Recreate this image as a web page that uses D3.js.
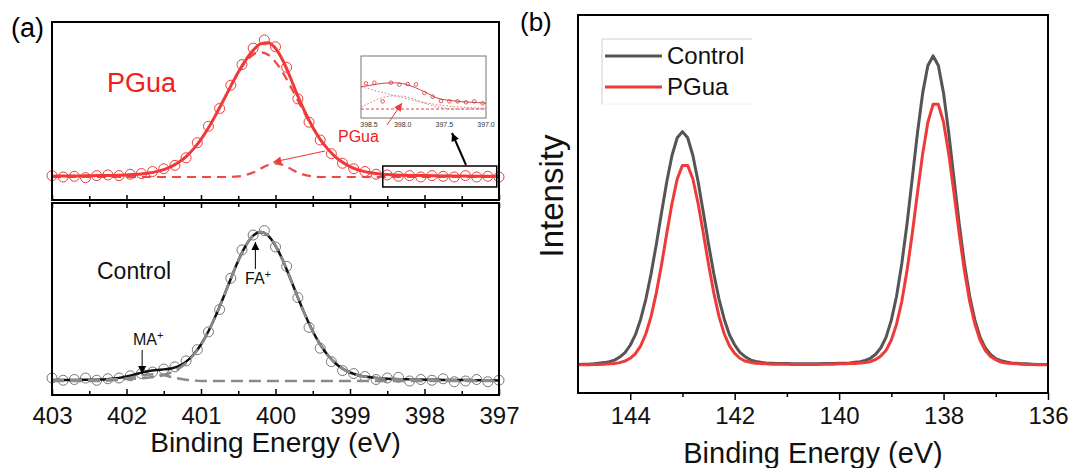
<!DOCTYPE html>
<html>
<head>
<meta charset="utf-8">
<script src="https://cdn.jsdelivr.net/npm/d3@7"></script>
<style>
  body { margin: 0; background: #fff; }
  svg { display: block; font-family: "Liberation Sans", Arial, sans-serif; }
</style>
</head>
<body>
<div id="chart"></div>
<script>
// ---------- panel (a): N 1s spectra with peak fits ----------
var energyFit = [403.0, 402.9, 402.8, 402.7, 402.6, 402.5, 402.4, 402.3, 402.2, 402.1,
  402.0, 401.9, 401.8, 401.7, 401.6, 401.5, 401.4, 401.3, 401.2, 401.1,
  401.0, 400.9, 400.8, 400.7, 400.6, 400.5, 400.4, 400.3, 400.2, 400.1,
  400.0, 399.9, 399.8, 399.7, 399.6, 399.5, 399.4, 399.3, 399.2, 399.1,
  399.0, 398.9, 398.8, 398.7, 398.6, 398.5, 398.4, 398.3, 398.2, 398.1,
  398.0, 397.9, 397.8, 397.7, 397.6, 397.5, 397.4, 397.3, 397.2, 397.1, 397.0];

var pguaFit = [0.006, 0.007, 0.007, 0.008, 0.008, 0.009, 0.010, 0.010, 0.011, 0.013,
  0.015, 0.018, 0.022, 0.029, 0.039, 0.054, 0.076, 0.107, 0.149, 0.205,
  0.275, 0.359, 0.455, 0.558, 0.663, 0.764, 0.853, 0.924, 0.971, 0.980,
  0.939, 0.848, 0.724, 0.590, 0.469, 0.363, 0.275, 0.205, 0.149, 0.107,
  0.076, 0.054, 0.039, 0.029, 0.022, 0.018, 0.015, 0.013, 0.011, 0.010,
  0.010, 0.009, 0.008, 0.008, 0.007, 0.007, 0.006, 0.006, 0.005, 0.005, 0.005];

var pguaMain = [0.006, 0.007, 0.007, 0.008, 0.008, 0.009, 0.010, 0.010, 0.011, 0.013,
  0.015, 0.018, 0.022, 0.029, 0.039, 0.054, 0.076, 0.107, 0.149, 0.205,
  0.275, 0.359, 0.455, 0.558, 0.663, 0.760, 0.839, 0.892, 0.910, 0.892,
  0.839, 0.760, 0.663, 0.558, 0.455, 0.359, 0.275, 0.205, 0.149, 0.107,
  0.076, 0.054, 0.039, 0.029, 0.022, 0.018, 0.015, 0.013, 0.011, 0.010,
  0.010, 0.009, 0.008, 0.008, 0.007, 0.007, 0.006, 0.006, 0.005, 0.005, 0.005];

var pguaMinor = [0, 0, 0, 0, 0, 0, 0, 0, 0, 0,
  0, 0, 0, 0, 0, 0, 0, 0, 0, 0,
  0, 0, 0, 0, 0, 0.004, 0.014, 0.032, 0.061, 0.088,
  0.100, 0.088, 0.061, 0.032, 0.014, 0.004, 0, 0, 0, 0,
  0, 0, 0, 0, 0, 0, 0, 0, 0, 0,
  0, 0, 0, 0, 0, 0, 0, 0, 0, 0, 0];

var controlFit = [0.006, 0.006, 0.007, 0.007, 0.008, 0.008, 0.009, 0.010, 0.015, 0.021,
  0.030, 0.042, 0.056, 0.067, 0.074, 0.078, 0.084, 0.100, 0.130, 0.178,
  0.245, 0.334, 0.441, 0.561, 0.687, 0.808, 0.908, 0.976, 1.000, 0.976,
  0.908, 0.808, 0.687, 0.561, 0.441, 0.334, 0.245, 0.174, 0.121, 0.083,
  0.057, 0.040, 0.030, 0.023, 0.018, 0.015, 0.013, 0.012, 0.011, 0.010,
  0.009, 0.008, 0.008, 0.007, 0.007, 0.006, 0.006, 0.005, 0.005, 0.005, 0.004];

var controlFA = [0.006, 0.006, 0.007, 0.007, 0.008, 0.008, 0.009, 0.010, 0.011, 0.012,
  0.013, 0.015, 0.018, 0.023, 0.030, 0.040, 0.057, 0.083, 0.121, 0.174,
  0.245, 0.334, 0.441, 0.561, 0.687, 0.808, 0.908, 0.976, 1.000, 0.976,
  0.908, 0.808, 0.687, 0.561, 0.441, 0.334, 0.245, 0.174, 0.121, 0.083,
  0.057, 0.040, 0.030, 0.023, 0.018, 0.015, 0.013, 0.012, 0.011, 0.010,
  0.009, 0.008, 0.008, 0.007, 0.007, 0.006, 0.006, 0.005, 0.005, 0.005, 0.004];

var controlMA = [0, 0, 0, 0, 0, 0, 0, 0, 0.004, 0.009,
  0.017, 0.027, 0.038, 0.044, 0.044, 0.038, 0.027, 0.017, 0.009, 0.004,
  0, 0, 0, 0, 0, 0, 0, 0, 0, 0,
  0, 0, 0, 0, 0, 0, 0, 0, 0, 0,
  0, 0, 0, 0, 0, 0, 0, 0, 0, 0,
  0, 0, 0, 0, 0, 0, 0, 0, 0, 0, 0];

var energyDots = [403.00, 402.85, 402.70, 402.55, 402.40, 402.25, 402.10, 401.95, 401.80, 401.65,
  401.50, 401.35, 401.20, 401.05, 400.90, 400.75, 400.60, 400.45, 400.30, 400.15,
  400.00, 399.85, 399.70, 399.55, 399.40, 399.25, 399.10, 398.95, 398.80, 398.65,
  398.50, 398.35, 398.20, 398.05, 397.90, 397.75, 397.60, 397.45, 397.30, 397.15, 397.00];

var pguaDots = [0.010, 0.000, 0.005, -0.005, 0.010, 0.015, 0.010, 0.020, 0.025, 0.040,
  0.060, 0.085, 0.140, 0.250, 0.370, 0.500, 0.670, 0.820, 0.940, 1.000,
  0.950, 0.800, 0.570, 0.400, 0.270, 0.170, 0.100, 0.060, 0.040, 0.020,
  0.015, 0.005, 0.010, 0.000, 0.010, 0.005, 0.000, 0.010, 0.000, 0.005, 0.000];

var controlDots = [0.020, 0.005, 0.010, 0.020, 0.005, 0.015, 0.020, 0.035, 0.050, 0.060,
  0.080, 0.095, 0.135, 0.210, 0.330, 0.480, 0.690, 0.880, 0.980, 1.010,
  0.900, 0.770, 0.560, 0.360, 0.220, 0.130, 0.070, 0.050, 0.030, 0.010,
  0.020, 0.025, 0.000, 0.010, 0.005, 0.015, -0.005, 0.000, 0.010, -0.005, 0.005];

var ticksA = [403, 402, 401, 400, 399, 398, 397];
var minorA = [402.5, 401.5, 400.5, 399.5, 398.5, 397.5];

// inset: zoom of 398.5 - 397.0 eV for PGua
var insetEnergy = [398.5, 398.4, 398.3, 398.2, 398.1, 398.0, 397.9, 397.8,
  397.7, 397.6, 397.5, 397.4, 397.3, 397.2, 397.1, 397.0];
var insetFit = [0.455, 0.48, 0.51, 0.53, 0.535, 0.52, 0.47, 0.40,
  0.32, 0.23, 0.19, 0.17, 0.15, 0.14, 0.13, 0.12];
var insetMain = [0.45, 0.41, 0.36, 0.32, 0.27, 0.23, 0.19, 0.15,
  0.12, 0.09, 0.07, 0.05, 0.04, 0.03, 0.02, 0.02];
var insetMinor = [0.04, 0.12, 0.20, 0.25, 0.27, 0.26, 0.22, 0.16,
  0.10, 0.05, 0.02, 0.0, 0.0, 0.0, 0.0, 0.0];
var insetBase = [0, 0, 0, 0, 0, 0, 0, 0, 0, 0, 0, 0, 0, 0, 0, 0];
var insetDotEnergy = [398.44, 398.34, 398.24, 398.14, 398.04, 397.94, 397.84, 397.74,
  397.64, 397.54, 397.44, 397.34, 397.24, 397.14, 397.04];
var insetDots = [0.524, 0.537, 0.156, 0.537, 0.497, 0.510, 0.503, 0.327,
  0.252, 0.163, 0.156, 0.156, 0.136, 0.156, 0.116];
var insetTicks = ["398.5", "398.0", "397.5", "397.0"];

// ---------- panel (b): Pb 4f ----------
var energyB = [145.0, 144.9, 144.8, 144.7, 144.6, 144.5, 144.4, 144.3, 144.2, 144.1,
  144.0, 143.9, 143.8, 143.7, 143.6, 143.5, 143.4, 143.3, 143.2, 143.1,
  143.0, 142.9, 142.8, 142.7, 142.6, 142.5, 142.4, 142.3, 142.2, 142.1,
  142.0, 141.9, 141.8, 141.7, 141.6, 141.5, 141.4, 141.3, 141.2, 141.1,
  141.0, 140.9, 140.8, 140.7, 140.6, 140.5, 140.4, 140.3, 140.2, 140.1,
  140.0, 139.9, 139.8, 139.7, 139.6, 139.5, 139.4, 139.3, 139.2, 139.1,
  139.0, 138.9, 138.8, 138.7, 138.6, 138.5, 138.4, 138.3, 138.2, 138.1,
  138.0, 137.9, 137.8, 137.7, 137.6, 137.5, 137.4, 137.3, 137.2, 137.1,
  137.0, 136.9, 136.8, 136.7, 136.6, 136.5, 136.4, 136.3, 136.2, 136.1, 136.0];

var controlB = [0.005, 0.006, 0.006, 0.007, 0.009, 0.011, 0.014, 0.019, 0.029, 0.043,
  0.067, 0.101, 0.151, 0.216, 0.298, 0.393, 0.495, 0.594, 0.679, 0.736,
  0.756, 0.736, 0.679, 0.594, 0.495, 0.393, 0.298, 0.216, 0.151, 0.101,
  0.068, 0.044, 0.030, 0.020, 0.015, 0.012, 0.010, 0.009, 0.008, 0.008,
  0.008, 0.007, 0.007, 0.007, 0.007, 0.007, 0.007, 0.008, 0.008, 0.008,
  0.009, 0.009, 0.010, 0.012, 0.014, 0.018, 0.025, 0.038, 0.059, 0.093,
  0.148, 0.225, 0.330, 0.458, 0.604, 0.751, 0.880, 0.969, 1.000, 0.969,
  0.880, 0.751, 0.604, 0.458, 0.330, 0.225, 0.148, 0.093, 0.058, 0.037,
  0.024, 0.017, 0.013, 0.010, 0.009, 0.007, 0.007, 0.006, 0.005, 0.005, 0.005];

var pguaB = [0.004, 0.004, 0.004, 0.005, 0.005, 0.006, 0.007, 0.008, 0.011, 0.016,
  0.025, 0.040, 0.065, 0.104, 0.160, 0.236, 0.327, 0.428, 0.524, 0.603,
  0.647, 0.647, 0.603, 0.524, 0.428, 0.327, 0.236, 0.160, 0.104, 0.065,
  0.041, 0.025, 0.016, 0.012, 0.009, 0.008, 0.007, 0.006, 0.006, 0.006,
  0.006, 0.005, 0.005, 0.005, 0.005, 0.005, 0.005, 0.006, 0.006, 0.006,
  0.007, 0.007, 0.008, 0.008, 0.010, 0.011, 0.014, 0.021, 0.032, 0.051,
  0.084, 0.135, 0.208, 0.307, 0.426, 0.558, 0.684, 0.786, 0.844, 0.844,
  0.786, 0.684, 0.558, 0.426, 0.307, 0.208, 0.135, 0.083, 0.050, 0.031,
  0.020, 0.013, 0.010, 0.008, 0.007, 0.006, 0.005, 0.005, 0.004, 0.004, 0.004];

var ticksB = [144, 142, 140, 138, 136];
var minorB = [143, 141, 139, 137];
var legendNames = ["Control", "PGua"];

// colours
var red = "#f03a3a";
var gray = "#555555";

var svg = d3.select("#chart").append("svg")
  .attr("width", 1072)
  .attr("height", 468);

function zip(xs, ys) {
  return xs.map(function(x, i) { return [x, ys[i]]; });
}

// arrowheads
var defs = svg.append("defs");
function marker(id, color) {
  defs.append("marker")
    .attr("id", id)
    .attr("viewBox", "0 0 10 10")
    .attr("refX", 10).attr("refY", 5)
    .attr("markerWidth", 9).attr("markerHeight", 8)
    .attr("markerUnits", "userSpaceOnUse")
    .attr("orient", "auto")
    .append("path")
    .attr("d", "M0,0 L10,5 L0,10 Z")
    .attr("fill", color);
}
marker("arBlack", "#000");
marker("arRed", red);

// ================= panel (a) =================
var pa = {left: 52, right: 499, top: 22, mid: 200, mid2: 203, bottom: 395};

var xA = d3.scaleLinear().domain([403, 397]).range([pa.left, pa.right]);
var yTop = d3.scaleLinear().domain([-0.168, 1.131]).range([pa.mid, pa.top]);
var yBot = d3.scaleLinear().domain([-0.094, 1.195]).range([pa.bottom, pa.mid2]);

var lineTop = d3.line().x(d => xA(d[0])).y(d => yTop(d[1])).curve(d3.curveMonotoneX);
var lineBot = d3.line().x(d => xA(d[0])).y(d => yBot(d[1])).curve(d3.curveMonotoneX);

var gA = svg.append("g");

// top (PGua)
gA.append("path").datum(zip(energyFit, pguaMain))
  .attr("d", lineTop).attr("fill", "none")
  .attr("stroke", "#f04848").attr("stroke-width", 2.2).attr("stroke-dasharray", "9,6");
gA.append("path").datum(zip(energyFit, pguaMinor))
  .attr("d", lineTop).attr("fill", "none")
  .attr("stroke", "#f04848").attr("stroke-width", 2.2).attr("stroke-dasharray", "9,6");
gA.selectAll("circle.pd").data(zip(energyDots, pguaDots)).enter()
  .append("circle").attr("class", "pd")
  .attr("cx", d => xA(d[0])).attr("cy", d => yTop(d[1])).attr("r", 5)
  .attr("fill", "none").attr("stroke", red).attr("stroke-width", 1);
gA.append("path").datum(zip(energyFit, pguaFit))
  .attr("d", lineTop).attr("fill", "none")
  .attr("stroke", red).attr("stroke-width", 3);

// bottom (Control)
gA.selectAll("circle.cd").data(zip(energyDots, controlDots)).enter()
  .append("circle").attr("class", "cd")
  .attr("cx", d => xA(d[0])).attr("cy", d => yBot(d[1])).attr("r", 5)
  .attr("fill", "none").attr("stroke", "#777").attr("stroke-width", 1);
gA.append("path").datum(zip(energyFit, controlFit))
  .attr("d", lineBot).attr("fill", "none")
  .attr("stroke", "#111").attr("stroke-width", 2.5);
gA.append("path").datum(zip(energyFit, controlFA))
  .attr("d", lineBot).attr("fill", "none")
  .attr("stroke", "#8a8a8a").attr("stroke-width", 2.5).attr("stroke-dasharray", "12,6");
gA.append("path").datum(zip(energyFit, controlMA))
  .attr("d", lineBot).attr("fill", "none")
  .attr("stroke", "#8a8a8a").attr("stroke-width", 2.5).attr("stroke-dasharray", "12,6");

// frames
gA.append("rect").attr("x", pa.left).attr("y", pa.top)
  .attr("width", pa.right - pa.left).attr("height", pa.mid - pa.top)
  .attr("fill", "none").attr("stroke", "#000").attr("stroke-width", 2);
gA.append("rect").attr("x", pa.left).attr("y", pa.mid2)
  .attr("width", pa.right - pa.left).attr("height", pa.bottom - pa.mid2)
  .attr("fill", "none").attr("stroke", "#000").attr("stroke-width", 2);

function tickAxis(axis, y, values, size) {
  var g = gA.append("g").attr("transform", "translate(0," + y + ")")
    .call(axis(xA).tickValues(values).tickSize(size).tickFormat(""));
  g.select(".domain").remove();
  g.selectAll("line").attr("stroke-width", 1.5);
  return g;
}
tickAxis(d3.axisBottom, pa.mid, ticksA, -5);
tickAxis(d3.axisBottom, pa.mid, minorA, -4);
tickAxis(d3.axisTop, pa.mid2, ticksA, -5);
tickAxis(d3.axisTop, pa.mid2, minorA, -4);
tickAxis(d3.axisBottom, pa.bottom, minorA, -4);

var axA = gA.append("g").attr("transform", "translate(0," + pa.bottom + ")")
  .call(d3.axisBottom(xA).tickValues(ticksA).tickSize(-6).tickPadding(12).tickFormat(d3.format("d")));
axA.select(".domain").remove();
axA.selectAll("line").attr("stroke-width", 1.5);
axA.selectAll("text").attr("font-size", 24).attr("font-family", "Liberation Sans, Arial, sans-serif").attr("fill", "#111");

gA.append("text").attr("x", (pa.left + pa.right) / 2).attr("y", 452)
  .attr("text-anchor", "middle").attr("font-size", 28).attr("fill", "#111")
  .text("Binding Energy (eV)");

gA.append("text").attr("x", 11).attr("y", 37).attr("font-size", 27).text("(a)");

// labels in panel (a)
gA.append("text").attr("x", 107).attr("y", 92).attr("font-size", 27)
  .attr("fill", "#f02020").text("PGua");
gA.append("text").attr("x", 338).attr("y", 142).attr("font-size", 16)
  .attr("fill", "#f02020").text("PGua");
gA.append("line").attr("x1", 325).attr("y1", 151).attr("x2", xA(400.03)).attr("y2", 162)
  .attr("stroke", red).attr("stroke-width", 1.2).attr("marker-end", "url(#arRed)");

gA.append("text").attr("x", 97).attr("y", 279).attr("font-size", 23)
  .attr("fill", "#111").text("Control");
var fa = gA.append("text").attr("x", 245).attr("y", 284).attr("font-size", 16).attr("fill", "#111");
fa.append("tspan").text("FA");
fa.append("tspan").attr("dy", -6).attr("font-size", 11).text("+");
gA.append("line").attr("x1", xA(400.27)).attr("y1", 269).attr("x2", xA(400.27)).attr("y2", 242)
  .attr("stroke", "#000").attr("stroke-width", 1).attr("marker-end", "url(#arBlack)");
var ma = gA.append("text").attr("x", 133).attr("y", 345).attr("font-size", 16).attr("fill", "#111");
ma.append("tspan").text("MA");
ma.append("tspan").attr("dy", -6).attr("font-size", 11).text("+");
gA.append("line").attr("x1", xA(401.79)).attr("y1", 350).attr("x2", xA(401.79)).attr("y2", 374)
  .attr("stroke", "#000").attr("stroke-width", 1).attr("marker-end", "url(#arBlack)");

// zoom box and arrow to inset
gA.append("rect").attr("x", xA(398.56)).attr("y", yTop(0.08))
  .attr("width", xA(397.03) - xA(398.56)).attr("height", yTop(-0.073) - yTop(0.08))
  .attr("fill", "none").attr("stroke", "#000").attr("stroke-width", 1.5);
gA.append("line").attr("x1", 466).attr("y1", 165).attr("x2", 452).attr("y2", 133)
  .attr("stroke", "#000").attr("stroke-width", 2).attr("marker-end", "url(#arBlack)");

// inset
var ib = {left: 361, right: 486, top: 56, bottom: 118};
var xI = d3.scaleLinear().domain([398.5, 397.0]).range([ib.left, ib.right]);
var yI = d3.scaleLinear().domain([0, 1]).range([109, 60]);
var lineI = d3.line().x(d => xI(d[0])).y(d => yI(d[1])).curve(d3.curveMonotoneX);
var gI = svg.append("g");
gI.append("rect").attr("x", ib.left).attr("y", ib.top)
  .attr("width", ib.right - ib.left).attr("height", ib.bottom - ib.top)
  .attr("fill", "#fff").attr("stroke", "#777").attr("stroke-width", 1);
gI.append("path").datum(zip(insetEnergy, insetBase)).attr("d", lineI)
  .attr("fill", "none").attr("stroke", "#d33").attr("stroke-width", 0.9).attr("stroke-dasharray", "3,2");
gI.append("path").datum(zip(insetEnergy, insetMain)).attr("d", lineI)
  .attr("fill", "none").attr("stroke", "#c66").attr("stroke-width", 0.9).attr("stroke-dasharray", "1.5,2");
gI.append("path").datum(zip(insetEnergy, insetMinor)).attr("d", lineI)
  .attr("fill", "none").attr("stroke", "#c66").attr("stroke-width", 0.9).attr("stroke-dasharray", "1.5,2");
gI.append("path").datum(zip(insetEnergy, insetFit)).attr("d", lineI)
  .attr("fill", "none").attr("stroke", "#c44").attr("stroke-width", 1);
gI.selectAll("circle").data(zip(insetDotEnergy, insetDots)).enter().append("circle")
  .attr("cx", d => xI(d[0])).attr("cy", d => yI(d[1])).attr("r", 1.8)
  .attr("fill", "none").attr("stroke", "#d33").attr("stroke-width", 0.8);
gI.selectAll("text.it").data(insetTicks).enter().append("text").attr("class", "it")
  .attr("x", (d, i) => Math.max(xI(+d), ib.left + 8)).attr("y", 127)
  .attr("text-anchor", "middle").attr("font-size", 7).attr("fill", "#333").text(d => d);
gI.append("line").attr("x1", 387).attr("y1", 125).attr("x2", 402).attr("y2", 103)
  .attr("stroke", red).attr("stroke-width", 1).attr("marker-end", "url(#arRed)");

// ================= panel (b) =================
var pb = {left: 578, right: 1048, top: 15, bottom: 393};
var xB = d3.scaleLinear().domain([145, 136]).range([pb.left, pb.right]);
var yB = d3.scaleLinear().domain([-0.087, 1.132]).range([pb.bottom, pb.top]);
var lineB = d3.line().x(d => xB(d[0])).y(d => yB(d[1]));

var seriesB = [
  {name: legendNames[0], values: controlB, color: gray},
  {name: legendNames[1], values: pguaB, color: red}
];

var gB = svg.append("g");
seriesB.forEach(function(s) {
  gB.append("path").datum(zip(energyB, s.values))
    .attr("d", lineB).attr("fill", "none")
    .attr("stroke", s.color).attr("stroke-width", 3).attr("stroke-linejoin", "round");
});

gB.append("rect").attr("x", pb.left).attr("y", pb.top)
  .attr("width", pb.right - pb.left).attr("height", pb.bottom - pb.top)
  .attr("fill", "none").attr("stroke", "#000").attr("stroke-width", 2);

var axB = gB.append("g").attr("transform", "translate(0," + pb.bottom + ")")
  .call(d3.axisBottom(xB).tickValues(ticksB).tickSize(7).tickPadding(7).tickFormat(d3.format("d")));
axB.select(".domain").remove();
axB.selectAll("line").attr("stroke-width", 1.5);
axB.selectAll("text").attr("font-size", 24).attr("font-family", "Liberation Sans, Arial, sans-serif").attr("fill", "#111");
var axB2 = gB.append("g").attr("transform", "translate(0," + pb.bottom + ")")
  .call(d3.axisBottom(xB).tickValues(minorB).tickSize(4).tickFormat(""));
axB2.select(".domain").remove();
axB2.selectAll("line").attr("stroke-width", 1.5);

gB.append("text").attr("x", (pb.left + pb.right) / 2).attr("y", 463)
  .attr("text-anchor", "middle").attr("font-size", 29).attr("fill", "#111")
  .text("Binding Energy (eV)");
gB.append("text").attr("transform", "translate(563," + ((pb.top + pb.bottom) / 2 - 8) + ") rotate(-90)")
  .attr("text-anchor", "middle").attr("font-size", 33).attr("fill", "#111")
  .text("Intensity");
gB.append("text").attr("x", 520).attr("y", 31).attr("font-size", 26).text("(b)");

// legend
var lg = gB.append("g");
lg.append("path").attr("d", "M752,39 H602 V104")
  .attr("fill", "none").attr("stroke", "#cfcfcf").attr("stroke-width", 1);
lg.append("line").attr("x1", 602).attr("x2", 752).attr("y1", 104).attr("y2", 104)
  .attr("stroke", "#f0f0f0").attr("stroke-width", 1);
seriesB.forEach(function(s, i) {
  var y = 56 + i * 31;
  lg.append("line").attr("x1", 605).attr("x2", 662).attr("y1", y).attr("y2", y)
    .attr("stroke", s.color).attr("stroke-width", 3);
  lg.append("text").attr("x", 667).attr("y", y + 8).attr("font-size", 24)
    .attr("fill", "#111").text(s.name);
});
</script>
</body>
</html>
